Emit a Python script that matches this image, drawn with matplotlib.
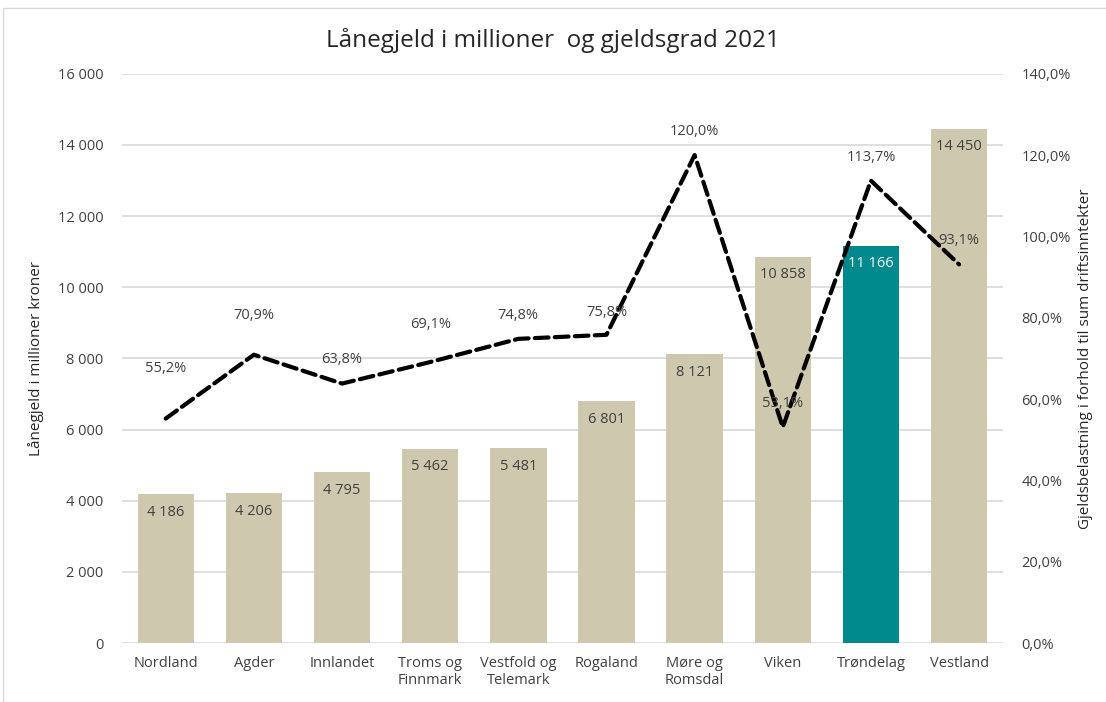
import numpy as np
import matplotlib.pyplot as plt
from matplotlib.patches import Rectangle
from matplotlib.ticker import FuncFormatter

plt.rcParams['font.family'] = ['Open Sans', 'DejaVu Sans']

# data
fylker = ['Nordland', 'Agder', 'Innlandet', 'Troms og\nFinnmark', 'Vestfold og\nTelemark',
          'Rogaland', 'Møre og\nRomsdal', 'Viken', 'Trøndelag', 'Vestland']
gjeld = [4186, 4206, 4795, 5462, 5481, 6801, 8121, 10858, 11166, 14450]
gjeldsgrad = [55.2, 70.9, 63.8, 69.1, 74.8, 75.8, 120.0, 53.1, 113.7, 93.1]

# label offsets (points) above the line points
lbl_off = [36, 28, 17, 27, 17, 16, 17, 17, 17, 17]

beige = '#CEC9AE'
teal = '#00898C'
txt = '#404040'
farger = [teal if f == 'Trøndelag' else beige for f in fylker]


def tusen(v, pos=None):
    return '{:,.0f}'.format(v).replace(',', ' ')


fig = plt.figure(figsize=(11.06, 7.02), dpi=100)
ax = fig.add_axes([0.110, 0.084, 0.797, 0.811])
ax2 = ax.twinx()

x = np.arange(len(fylker))
ax.bar(x, gjeld, width=0.64, color=farger, zorder=2)
for i, v in enumerate(gjeld):
    c = 'white' if farger[i] == teal else txt
    ax.annotate(tusen(v), (x[i], v), xytext=(0, -13), textcoords='offset points',
                ha='center', va='center', fontsize=10.5, color=c, zorder=3)

ax.set_ylim(0, 16000)
ax.set_xlim(-0.5, len(fylker) - 0.5)
ax.set_yticks(np.arange(0, 16001, 2000))
ax.yaxis.set_major_formatter(FuncFormatter(tusen))
ax.grid(axis='y', color='#D9D9D9', linewidth=1.2, zorder=0)
ax.set_axisbelow(True)
ax.set_xticks(x)
ax.set_xticklabels(fylker, fontsize=10.5, color=txt, linespacing=1.2)
ax.tick_params(length=0, labelsize=10.5, labelcolor=txt)
ax.tick_params(axis='x', pad=9)
ax.tick_params(axis='y', pad=13)
for s in ax.spines.values():
    s.set_visible(False)
ax.set_ylabel('Lånegjeld i millioner kroner', fontsize=11, color='#262626', labelpad=10)

ax2.plot(x, gjeldsgrad, color='black', linewidth=3.0, dashes=(3.3, 1.5),
         dash_capstyle='round', zorder=4)
for i, v in enumerate(gjeldsgrad):
    ax2.annotate('{:.1f}%'.format(v).replace('.', ','), (x[i], v),
                 xytext=(0, lbl_off[i]), textcoords='offset points',
                 ha='center', va='center', fontsize=10.5, color=txt, zorder=5)
ax2.set_ylim(0, 140)
ax2.set_yticks(np.arange(0, 141, 20))
ax2.yaxis.set_major_formatter(FuncFormatter(lambda v, p: '{:.1f}%'.format(v).replace('.', ',')))
ax2.tick_params(length=0, labelsize=10.5, labelcolor=txt, pad=13)
for s in ax2.spines.values():
    s.set_visible(False)
ax2.set_ylabel('Gjeldsbelastning i forhold til sum driftsinntekter', fontsize=11,
               color='#262626', labelpad=5)

ax.set_zorder(ax2.get_zorder() - 1)
ax.patch.set_visible(False)

fig.text(0.5, 0.943, 'Lånegjeld i millioner  og gjeldsgrad 2021', ha='center', va='center',
         fontsize=17.5, color='#262626')

fig.patches.append(Rectangle((0.003, -0.01), 1.2, 0.999, transform=fig.transFigure,
                             fill=False, edgecolor='#D9D9D9', linewidth=1.0))

fig.savefig('out.png', dpi=100)
